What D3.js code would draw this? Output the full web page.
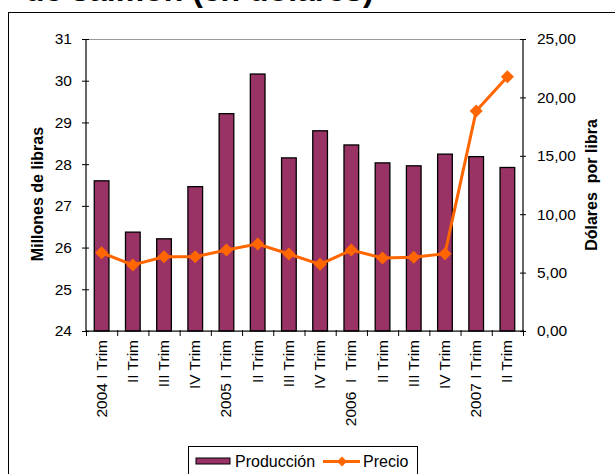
<!DOCTYPE html>
<html>
<head>
<meta charset="utf-8">
<script src="https://cdn.jsdelivr.net/npm/d3@7"></script>
<style>
  body { margin: 0; background: #fff; }
  svg { font-family: "Liberation Sans", Arial, sans-serif; }
  text { white-space: pre; }
</style>
</head>
<body>
<svg id="chart" width="615" height="474"></svg>
<script>
// data
const categories = ["2004 I Trim", "II Trim", "III Trim", "IV Trim", "2005 I Trim", "II Trim", "III Trim",
  "IV Trim", "2006  I  Trim", "II Trim", "III Trim", "IV Trim", "2007 I Trim", "II Trim"];
const produccion = [27.60, 26.37, 26.21, 27.46, 29.21, 30.16, 28.15, 28.80, 28.46, 28.03, 27.96, 28.24, 28.18, 27.92];
const precio = [6.70, 5.65, 6.36, 6.36, 6.93, 7.45, 6.59, 5.71, 6.93, 6.25, 6.31, 6.62, 18.84, 21.77];
const leftTicks = [24, 25, 26, 27, 28, 29, 30, 31];
const rightTicks = [0, 5, 10, 15, 20, 25];

const width = 615, height = 474;
const plot = { left: 86, right: 523, top: 39, bottom: 331 };
const fs = 15.5;

const svg = d3.select("#chart");

// outer chart border (partly outside the picture)
svg.append("rect").attr("x", 8.5).attr("y", 12.5).attr("width", 640).attr("height", 500)
  .attr("fill", "none").attr("stroke", "#000").attr("stroke-width", 1);

// title, mostly cut off at the top
svg.append("text").attr("x", 25).attr("y", 1)
  .attr("font-size", 32).attr("font-weight", "bold")
  .text("de salmón (en dólares)");

const x = d3.scaleBand().domain(d3.range(categories.length))
  .range([plot.left, plot.right]).paddingInner(0.53).paddingOuter(0.265);
const xEdge = d3.scaleLinear().domain([0, categories.length]).range([plot.left, plot.right]);
const yL = d3.scaleLinear().domain([24, 31]).range([plot.bottom, plot.top]);
const yR = d3.scaleLinear().domain([0, 25]).range([plot.bottom, plot.top]);

// plot area border
svg.append("rect").attr("x", plot.left).attr("y", plot.top + 0.5)
  .attr("width", plot.right - plot.left).attr("height", plot.bottom - plot.top)
  .attr("fill", "none").attr("stroke", "#999").attr("stroke-width", 1);

// bars
svg.append("g").selectAll("rect").data(produccion).join("rect")
  .attr("x", (d, i) => x(i)).attr("width", x.bandwidth())
  .attr("y", d => yL(d)).attr("height", d => yL(24) - yL(d))
  .attr("fill", "#993366").attr("stroke", "#000").attr("stroke-width", 1.3);

// left axis
const axL = svg.append("g").attr("transform", `translate(${plot.left},0)`)
  .call(d3.axisLeft(yL).tickValues(leftTicks).tickSize(4).tickPadding(10).tickFormat(d3.format("d")));
axL.selectAll(".tick line").attr("x1", 3).attr("x2", -4);
axL.select(".domain").attr("d", `M0,${plot.top}V${plot.bottom}`);

// right axis
const axR = svg.append("g").attr("transform", `translate(${plot.right},0)`)
  .call(d3.axisRight(yR).tickValues(rightTicks).tickSize(4).tickPadding(10)
    .tickFormat(d => d3.format(".2f")(d).replace(".", ",")));
axR.selectAll(".tick line").attr("x1", -3).attr("x2", 3);
axR.select(".domain").attr("d", `M0,${plot.top}V${plot.bottom}`);

// bottom axis (ticks between categories)
const axB = svg.append("g").attr("transform", `translate(0,${plot.bottom})`)
  .call(d3.axisBottom(xEdge).tickValues(d3.range(categories.length + 1)).tickSize(5).tickFormat(""));
axB.selectAll(".tick line").attr("y1", -1).attr("y2", 5);
axB.select(".domain").attr("d", `M${plot.left},0H${plot.right}`);

svg.selectAll(".domain, .tick line").attr("stroke", "#000");
svg.selectAll(".tick text").attr("font-size", fs).attr("fill", "#000")
  .attr("font-family", "Liberation Sans, Arial, sans-serif");

// category labels
svg.append("g").selectAll("text").data(categories).join("text")
  .attr("transform", (d, i) => `translate(${x(i) + x.bandwidth() / 2 + 5},340) rotate(-90)`)
  .attr("text-anchor", "end").attr("font-size", fs).attr("fill", "#000")
  .text(d => d);

// price line
const line = d3.line().x((d, i) => x(i) + x.bandwidth() / 2).y(d => yR(d));
svg.append("path").datum(precio).attr("d", line)
  .attr("fill", "none").attr("stroke", "#FF6600").attr("stroke-width", 3);
svg.append("g").selectAll("path").data(precio).join("path")
  .attr("d", d3.symbol(d3.symbolSquare, 85))
  .attr("transform", (d, i) => `translate(${x(i) + x.bandwidth() / 2},${yR(d)}) rotate(45)`)
  .attr("fill", "#FF6600");

// axis titles
svg.append("text").attr("transform", "translate(43,194) rotate(-90)")
  .attr("text-anchor", "middle").attr("font-size", 16).attr("font-weight", "bold")
  .text("Millones de libras");
svg.append("text").attr("transform", "translate(597,185) rotate(-90)")
  .attr("text-anchor", "middle").attr("font-size", 16).attr("font-weight", "bold")
  .text("Dólares  por libra");

// legend
const lg = svg.append("g");
lg.append("rect").attr("x", 188.5).attr("y", 446.5).attr("width", 229).attr("height", 40)
  .attr("fill", "#fff").attr("stroke", "#000");
lg.append("rect").attr("x", 196).attr("y", 458).attr("width", 34).attr("height", 6)
  .attr("fill", "#993366").attr("stroke", "#000");
lg.append("text").attr("x", 235).attr("y", 466.5).attr("font-size", 16).text("Producción");
lg.append("line").attr("x1", 323).attr("x2", 360).attr("y1", 461.5).attr("y2", 461.5)
  .attr("stroke", "#FF6600").attr("stroke-width", 3);
lg.append("path").attr("d", d3.symbol(d3.symbolSquare, 50))
  .attr("transform", "translate(342,461.5) rotate(45)").attr("fill", "#FF6600");
lg.append("text").attr("x", 363).attr("y", 466.5).attr("font-size", 16).text("Precio");
</script>
</body>
</html>
